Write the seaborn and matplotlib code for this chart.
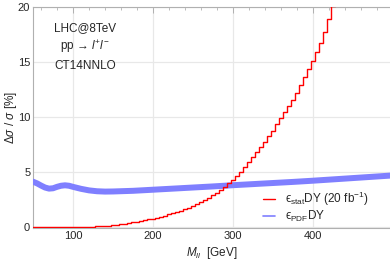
import numpy as np
import pandas as pd
import matplotlib
matplotlib.use("Agg")
import matplotlib.pyplot as plt
import seaborn as sns
from matplotlib.ticker import MultipleLocator
from matplotlib.lines import Line2D

# statistical error, 5 GeV bins (bin centres)
stat_mass = np.arange(50, 431, 5)
stat_err = [0.00, 0.00, 0.00, 0.00, 0.00, 0.00, 0.01, 0.01, 0.01, 0.01,
            0.02, 0.02, 0.03, 0.04, 0.05, 0.06, 0.08, 0.10, 0.13, 0.16,
            0.20, 0.24, 0.28, 0.33, 0.38, 0.44, 0.50, 0.57, 0.64, 0.72,
            0.80, 0.88, 0.97, 1.07, 1.17, 1.28, 1.40, 1.52, 1.65, 1.80,
            1.95, 2.12, 2.30, 2.50, 2.70, 2.92, 3.15, 3.40, 3.68, 4.00,
            4.33, 4.68, 5.05, 5.45, 5.90, 6.35, 6.82, 7.30, 7.80, 8.30,
            8.80, 9.35, 9.90, 10.45, 11.00, 11.60, 12.25, 12.95, 13.65, 14.35,
            15.10, 15.90, 16.80, 17.80, 18.90, 20.10, 21.30]

# PDF uncertainty
pdf_mass = [50, 55, 60, 65, 70, 75, 80, 85, 90, 95, 100, 110, 120, 130, 140,
            150, 175, 200, 225, 250, 275, 300, 325, 350, 375, 400, 425, 450, 475, 500]
pdf_err = [4.15, 4.0, 3.8, 3.62, 3.52, 3.55, 3.68, 3.78, 3.82, 3.78, 3.68, 3.5, 3.36, 3.28, 3.25,
           3.26, 3.32, 3.42, 3.52, 3.62, 3.72, 3.83, 3.93, 4.03, 4.13, 4.24, 4.36, 4.48, 4.60, 4.72]

df_stat = pd.DataFrame({'mass': stat_mass, 'err': stat_err})
df_pdf = pd.DataFrame({'mass': pdf_mass, 'err': pdf_err})

sns.set_style('white')
plt.rcParams['font.family'] = ['Liberation Sans', 'DejaVu Sans']
plt.rcParams['mathtext.fontset'] = 'custom'
plt.rcParams['mathtext.rm'] = 'Liberation Sans'
plt.rcParams['mathtext.it'] = 'Liberation Sans:italic'
plt.rcParams['mathtext.bf'] = 'Liberation Sans:bold'
plt.rcParams['mathtext.fallback'] = 'stixsans'

red = '#ff0000'
blue = '#7f7fff'

fig = plt.figure(figsize=(3.9, 2.64), dpi=100)
ax = fig.add_axes([33 / 390, 36 / 264, 357 / 390, 220.7 / 264])

sns.lineplot(x='mass', y='err', data=df_pdf, ax=ax, color=blue, lw=4.3, legend=False)
sns.lineplot(x='mass', y='err', data=df_stat, ax=ax, color=red, lw=1.0,
             drawstyle='steps-mid', legend=False)
ax.lines[0].set_zorder(4)
ax.lines[1].set_zorder(5)

ax.set_xlim(50, 496)
ax.set_ylim(-0.06, 20)
ax.xaxis.set_major_locator(MultipleLocator(100))
ax.xaxis.set_minor_locator(MultipleLocator(20))
ax.yaxis.set_major_locator(MultipleLocator(5))
ax.yaxis.set_minor_locator(MultipleLocator(1))
ax.grid(True, which='major', color='#e8e8e8', lw=0.9)
ax.set_axisbelow(True)
for s in ['left', 'bottom', 'top']:
    ax.spines[s].set_color('#b0b0b0')
    ax.spines[s].set_linewidth(0.8)
ax.spines['right'].set_visible(False)
ax.tick_params(which='both', direction='in', color='#b0b0b0', top=True, labelsize=8, pad=2)
ax.tick_params(which='major', length=4, width=0.7)
ax.tick_params(which='minor', length=2, width=0.6)

ax.set_xlabel(r'$M_{ll}$  [GeV]', fontsize=8.5, labelpad=3)
ax.set_ylabel(r'$\Delta\sigma$ / $\sigma$ [%]', fontsize=8.5, va='center', ha='center')
ax.yaxis.set_label_coords(-22 / 357, (228 - 117) / 220.7)

handles = [Line2D([], [], color=red, lw=1.0), Line2D([], [], color=blue, lw=1.2)]
labels = [r'ϵ$_{\rm stat}$DY (20 fb$^{-1}$)', r'ϵ$_{\rm PDF}$DY']
ax.legend(handles, labels, loc='upper left', bbox_to_anchor=(263 / 390, 1 - 190 / 264),
          bbox_transform=fig.transFigure, frameon=False, fontsize=8.5, handlelength=1.0,
          handletextpad=0.9, labelspacing=0.05, borderaxespad=0, borderpad=0)

fig.text(85 / 390, 1 - 28 / 264, 'LHC@8TeV', ha='center', va='center', fontsize=8.5)
fig.text(85 / 390, 1 - 47 / 264, r'pp → $l^{+}l^{-}$', ha='center', va='center', fontsize=8.5)
fig.text(85 / 390, 1 - 66 / 264, 'CT14NNLO', ha='center', va='center', fontsize=8.5)

plt.savefig('out.png', dpi=100)
